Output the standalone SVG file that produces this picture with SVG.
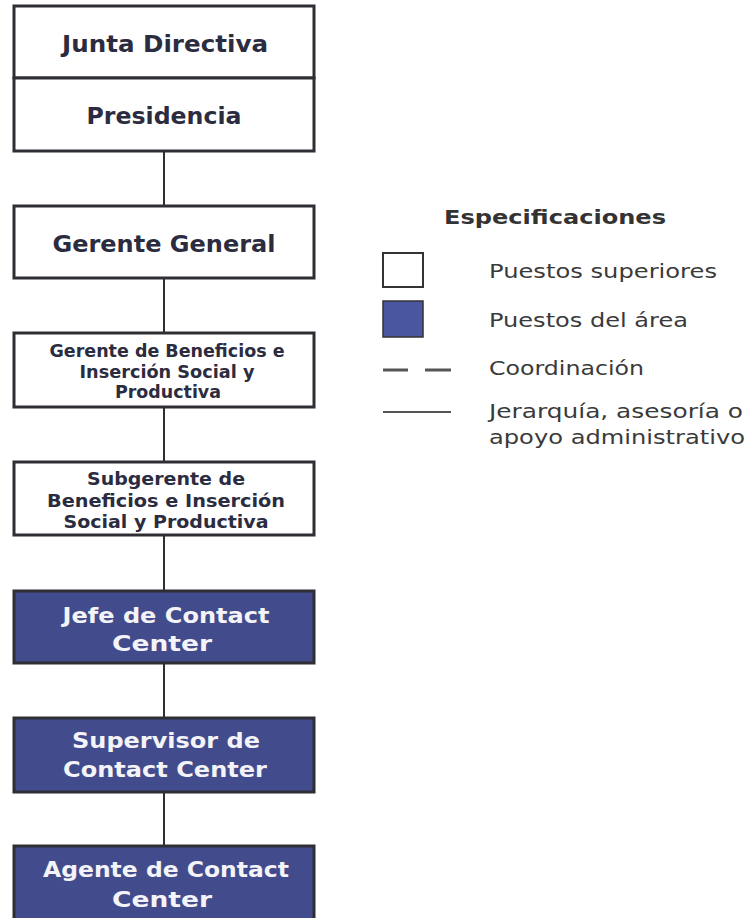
<svg xmlns="http://www.w3.org/2000/svg" width="748" height="918" viewBox="0 0 748 918">
  <style>
    .box { stroke: #2e2e34; stroke-width: 3; }
    .sup { fill: #ffffff; }
    .area { fill: #424c8c; }
    .t { font-family: "DejaVu Sans", Verdana, sans-serif; font-weight: bold; text-anchor: middle; }
    .ts { fill: #2c2c40; }
    .ta { fill: #f4f4f8; }
    .conn line { stroke: #2e2e34; stroke-width: 2; }
    .leg { font-family: "DejaVu Sans", Verdana, sans-serif; font-size: 20px; fill: #3a3a3a; }
    .legt { font-family: "DejaVu Sans", Verdana, sans-serif; font-weight: bold; font-size: 19px; fill: #333333; }
  </style>
  <rect x="0" y="0" width="748" height="918" fill="#ffffff"/>

  <g id="connectors" class="conn">
    <line x1="164" y1="151" x2="164" y2="206"/>
    <line x1="164" y1="278" x2="164" y2="333"/>
    <line x1="164" y1="407" x2="164" y2="462"/>
    <line x1="164" y1="535" x2="164" y2="591"/>
    <line x1="164" y1="663" x2="164" y2="718"/>
    <line x1="164" y1="792" x2="164" y2="846"/>
  </g>

  <g id="junta">
    <rect class="box sup" x="14" y="6" width="300" height="72"/>
    <text class="t ts" x="165" y="52" font-size="23" textLength="206" lengthAdjust="spacingAndGlyphs">Junta Directiva</text>
  </g>
  <g id="presidencia">
    <rect class="box sup" x="14" y="78" width="300" height="73"/>
    <text class="t ts" x="164" y="124" font-size="23" textLength="155" lengthAdjust="spacingAndGlyphs">Presidencia</text>
  </g>
  <g id="gerente-general">
    <rect class="box sup" x="14" y="206" width="300" height="72"/>
    <text class="t ts" x="164" y="252" font-size="23" textLength="223" lengthAdjust="spacingAndGlyphs">Gerente General</text>
  </g>
  <g id="gerente-beneficios">
    <rect class="box sup" x="14" y="333" width="300" height="74"/>
    <text class="t ts" x="167" y="357" font-size="17" textLength="235" lengthAdjust="spacingAndGlyphs">Gerente de Beneficios e</text>
    <text class="t ts" x="167" y="378" font-size="17" textLength="175" lengthAdjust="spacingAndGlyphs">Inserción Social y</text>
    <text class="t ts" x="168" y="398" font-size="17" textLength="106" lengthAdjust="spacingAndGlyphs">Productiva</text>
  </g>
  <g id="subgerente">
    <rect class="box sup" x="14" y="462" width="300" height="73"/>
    <text class="t ts" x="166" y="485" font-size="18" textLength="158" lengthAdjust="spacingAndGlyphs">Subgerente de</text>
    <text class="t ts" x="166" y="507" font-size="18" textLength="238" lengthAdjust="spacingAndGlyphs">Beneficios e Inserción</text>
    <text class="t ts" x="166" y="528" font-size="18" textLength="205" lengthAdjust="spacingAndGlyphs">Social y Productiva</text>
  </g>
  <g id="jefe">
    <rect class="box area" x="14" y="591" width="300" height="72"/>
    <text class="t ta" x="166" y="623" font-size="22" textLength="207" lengthAdjust="spacingAndGlyphs">Jefe de Contact</text>
    <text class="t ta" x="162" y="651" font-size="22" textLength="100" lengthAdjust="spacingAndGlyphs">Center</text>
  </g>
  <g id="supervisor">
    <rect class="box area" x="14" y="718" width="300" height="74"/>
    <text class="t ta" x="166" y="748" font-size="22" textLength="188" lengthAdjust="spacingAndGlyphs">Supervisor de</text>
    <text class="t ta" x="165" y="777" font-size="22" textLength="204" lengthAdjust="spacingAndGlyphs">Contact Center</text>
  </g>
  <g id="agente">
    <rect class="box area" x="14" y="846" width="300" height="80"/>
    <text class="t ta" x="166" y="877" font-size="22" textLength="246" lengthAdjust="spacingAndGlyphs">Agente de Contact</text>
    <text class="t ta" x="162" y="907" font-size="22" textLength="100" lengthAdjust="spacingAndGlyphs">Center</text>
  </g>

  <g id="legend">
    <text class="legt" x="444" y="224" textLength="222" lengthAdjust="spacingAndGlyphs">Especificaciones</text>
    <rect x="383" y="253" width="40" height="34" fill="#ffffff" stroke="#333" stroke-width="2"/>
    <rect x="383" y="301" width="40" height="36" fill="#4a57a0" stroke="#333" stroke-width="1.5"/>
    <line x1="383" y1="370" x2="408" y2="370" stroke="#555" stroke-width="3"/>
    <line x1="425" y1="370" x2="451" y2="370" stroke="#555" stroke-width="3"/>
    <line x1="383" y1="412" x2="451" y2="412" stroke="#555" stroke-width="2"/>
    <text class="leg" x="489" y="278" textLength="228" lengthAdjust="spacingAndGlyphs">Puestos superiores</text>
    <text class="leg" x="489" y="327" textLength="199" lengthAdjust="spacingAndGlyphs">Puestos del área</text>
    <text class="leg" x="489" y="375" textLength="155" lengthAdjust="spacingAndGlyphs">Coordinación</text>
    <text class="leg" x="489" y="418" textLength="254" lengthAdjust="spacingAndGlyphs">Jerarquía, asesoría o</text>
    <text class="leg" x="489" y="444" textLength="256" lengthAdjust="spacingAndGlyphs">apoyo administrativo</text>
  </g>
</svg>
